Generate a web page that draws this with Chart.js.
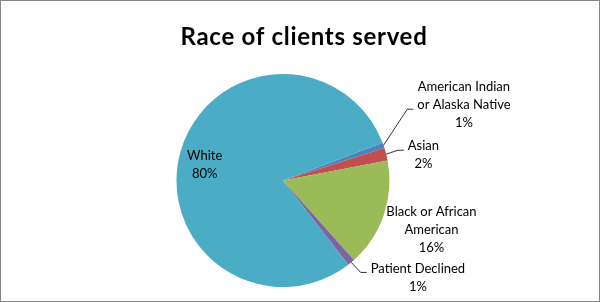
<!DOCTYPE html>
<html>
<head>
<meta charset="utf-8">
<script src="https://cdn.jsdelivr.net/npm/chart.js@4"></script>
<style>
	body { margin: 0; background: #fff; }
	#wrap { position: relative; width: 600px; height: 302px; }
</style>
</head>
<body>
<div id="wrap"><canvas id="pie" width="600" height="302"></canvas></div>
<script>
// data (degrees of the pie, shown as rounded %)
const categories = [
	"American Indian or Alaska Native",
	"Asian",
	"Black or African American",
	"Patient Declined",
	"White",
];
const clientCounts = [3, 7, 59, 4, 287];
const sliceColors = ["#4F81BD", "#C0504D", "#9BBB59", "#8064A2", "#4BACC6"];
const labelLines = [
	["American Indian", "or Alaska Native"],
	["Asian"],
	["Black or African", "American"],
	["Patient Declined"],
	["White"],
];
const chartTitle = "Race of clients served";

// where each label sits: angle shift (deg) and distance as a share of the radius
const labelLayout = [
	{ shift: -3.3, dist: 1.84, leader: true },
	{ shift: 4.1, dist: 1.34, leader: true },
	{ shift: -0.2, dist: 1.47, leader: false },
	{ shift: -14.5, dist: 1.56, leader: true },
	{ shift: -4.4, dist: 0.75, leader: false },
];

const LABEL_FONT = "13px Lato";
const LINE_H = 18;

const pieLabels = {
	id: "pieLabels",
	beforeDraw(chart) {
		const ctx = chart.ctx;
		ctx.save();
		ctx.fillStyle = "#fff";
		ctx.fillRect(0, 0, chart.width, chart.height);
		ctx.restore();
	},
	afterDraw(chart) {
		const ctx = chart.ctx;
		const arcs = chart.getDatasetMeta(0).data;
		const total = clientCounts.reduce((a, b) => a + b, 0);
		ctx.save();

		// title, centred on the whole picture
		ctx.font = "bold 24px Lato";
		ctx.letterSpacing = "0.7px";
		ctx.fillStyle = "#000";
		ctx.textAlign = "center";
		ctx.textBaseline = "alphabetic";
		ctx.fillText(chartTitle, 304, 45);
		ctx.letterSpacing = "0px";

		ctx.font = LABEL_FONT;
		ctx.strokeStyle = "#000";
		ctx.lineWidth = 0.8;
		ctx.textBaseline = "middle";
		arcs.forEach((arc, i) => {
			const lay = labelLayout[i];
			const mid = (arc.startAngle + arc.endAngle) / 2;
			const ang = mid + (lay.shift * Math.PI) / 180;
			const r = arc.outerRadius;
			const cx = arc.x + Math.cos(ang) * r * lay.dist;
			const cy = arc.y + Math.sin(ang) * r * lay.dist;
			const lines = labelLines[i].concat([Math.round((clientCounts[i] / total) * 100) + "%"]);
			const top = cy - ((lines.length - 1) * LINE_H) / 2;
			lines.forEach((t, k) => ctx.fillText(t, cx, top + k * LINE_H));

			if (lay.leader) {
				const sx = arc.x + Math.cos(mid) * r;
				const sy = arc.y + Math.sin(mid) * r;
				const w = Math.max(...lines.map((t) => ctx.measureText(t).width));
				const row = lines.length > 2 ? 1 : 0;
				const ex = cx - w / 2 - 4;
				const ey = top + row * LINE_H + 4;
				ctx.beginPath();
				ctx.moveTo(sx, sy);
				ctx.lineTo(ex - 6, ey);
				ctx.lineTo(ex, ey);
				ctx.stroke();
			}
		});
		// outer border of the chart
		ctx.strokeStyle = "#868686";
		ctx.lineWidth = 1;
		ctx.strokeRect(0.5, 0.5, chart.width - 1, chart.height - 1);
		ctx.restore();
	},
};

new Chart(document.getElementById("pie").getContext("2d"), {
	type: "pie",
	data: {
		labels: categories,
		datasets: [
			{
				data: clientCounts,
				backgroundColor: sliceColors,
				borderWidth: 0,
			},
		],
	},
	options: {
		responsive: false,
		animation: false,
		rotation: 69.2,
		layout: { padding: { left: 176, right: 210, top: 74, bottom: 15 } },
		plugins: {
			legend: { display: false },
			tooltip: { enabled: false },
			title: { display: false },
		},
	},
	plugins: [pieLabels],
});
</script>
</body>
</html>
